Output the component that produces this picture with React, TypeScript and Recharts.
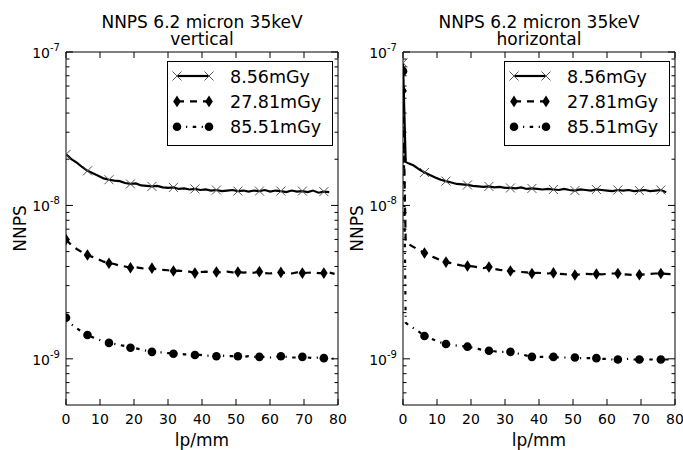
import { LineChart, Line, XAxis, YAxis, Legend, Label } from 'recharts';

// spatial frequency (lp/mm)
const LP = [
  0, 0.79, 1.58, 3.16, 4.74, 6.32, 7.9, 9.48, 11.06, 12.64, 14.22, 15.8, 17.38, 18.96, 20.54, 22.12,
  23.7, 25.28, 26.86, 28.44, 30.02, 31.6, 33.18, 34.76, 36.34, 37.92, 39.5, 41.08, 42.66, 44.24, 45.82,
  47.4, 48.98, 50.56, 52.14, 53.72, 55.3, 56.88, 58.46, 60.04, 61.62, 63.2, 64.78, 66.36, 67.94, 69.52,
  71.1, 72.68, 74.26, 75.84, 77.42, 79.0,
];

// where the marker symbols sit
const MARKER_LP = [0, 6.32, 12.64, 18.96, 25.28, 31.6, 37.92, 44.24, 50.56, 56.88, 63.2, 69.52, 75.84];

// vertical
const V_8_56 = [
  2.15e-8, 2.08e-8, 2.0e-8, 1.9e-8, 1.78e-8, 1.68e-8, 1.62e-8, 1.56e-8, 1.5e-8, 1.47e-8, 1.45e-8,
  1.44e-8, 1.4e-8, 1.38e-8, 1.39e-8, 1.35e-8, 1.34e-8, 1.33e-8, 1.34e-8, 1.31e-8, 1.3e-8, 1.31e-8,
  1.28e-8, 1.29e-8, 1.27e-8, 1.28e-8, 1.26e-8, 1.27e-8, 1.25e-8, 1.26e-8, 1.24e-8, 1.25e-8, 1.26e-8,
  1.24e-8, 1.25e-8, 1.23e-8, 1.25e-8, 1.24e-8, 1.26e-8, 1.23e-8, 1.25e-8, 1.24e-8, 1.22e-8, 1.25e-8,
  1.23e-8, 1.24e-8, 1.22e-8, 1.25e-8, 1.21e-8, 1.23e-8, 1.22e-8, null,
];
const V_27_81 = [
  6.0e-9, 5.75e-9, 5.5e-9, 5.2e-9, 4.95e-9, 4.75e-9, 4.6e-9, 4.45e-9, 4.3e-9, 4.2e-9, 4.15e-9,
  4.05e-9, 4.0e-9, 3.92e-9, 3.95e-9, 3.9e-9, 3.85e-9, 3.9e-9, 3.82e-9, 3.8e-9, 3.78e-9, 3.74e-9,
  3.76e-9, 3.72e-9, 3.7e-9, 3.62e-9, 3.68e-9, 3.7e-9, 3.66e-9, 3.68e-9, 3.65e-9, 3.7e-9, 3.66e-9,
  3.68e-9, 3.65e-9, 3.67e-9, 3.64e-9, 3.7e-9, 3.62e-9, 3.6e-9, 3.66e-9, 3.66e-9, 3.63e-9, 3.6e-9,
  3.66e-9, 3.62e-9, 3.64e-9, 3.66e-9, 3.62e-9, 3.62e-9, 3.65e-9, 3.58e-9,
];
const V_85_51 = [
  1.85e-9, 1.75e-9, 1.68e-9, 1.58e-9, 1.5e-9, 1.43e-9, 1.38e-9, 1.34e-9, 1.3e-9, 1.27e-9, 1.25e-9,
  1.23e-9, 1.21e-9, 1.18e-9, 1.17e-9, 1.15e-9, 1.13e-9, 1.11e-9, 1.1e-9, 1.1e-9, 1.09e-9, 1.08e-9,
  1.08e-9, 1.07e-9, 1.07e-9, 1.06e-9, 1.06e-9, 1.05e-9, 1.05e-9, 1.04e-9, 1.05e-9, 1.04e-9, 1.04e-9,
  1.04e-9, 1.03e-9, 1.04e-9, 1.03e-9, 1.03e-9, 1.03e-9, 1.02e-9, 1.03e-9, 1.04e-9, 1.03e-9, 1.02e-9,
  1.02e-9, 1.03e-9, 1.02e-9, 1.01e-9, 1.02e-9, 1.01e-9, 1.01e-9, 1.0e-9,
];

// horizontal
const H_8_56 = [
  8.5e-8, 1.92e-8, 1.88e-8, 1.82e-8, 1.72e-8, 1.64e-8, 1.58e-8, 1.52e-8, 1.47e-8, 1.44e-8, 1.41e-8,
  1.38e-8, 1.37e-8, 1.36e-8, 1.34e-8, 1.33e-8, 1.32e-8, 1.33e-8, 1.31e-8, 1.32e-8, 1.3e-8, 1.3e-8,
  1.29e-8, 1.31e-8, 1.28e-8, 1.29e-8, 1.28e-8, 1.27e-8, 1.28e-8, 1.27e-8, 1.26e-8, 1.28e-8, 1.26e-8,
  1.25e-8, 1.27e-8, 1.26e-8, 1.25e-8, 1.27e-8, 1.26e-8, 1.25e-8, 1.24e-8, 1.26e-8, 1.25e-8, 1.26e-8,
  1.24e-8, 1.25e-8, 1.26e-8, 1.24e-8, 1.25e-8, 1.26e-8, 1.22e-8, null,
];
const H_27_81 = [
  5.6e-8, 5.78e-9, 5.6e-9, 5.35e-9, 5.1e-9, 4.9e-9, 4.7e-9, 4.55e-9, 4.4e-9, 4.27e-9, 4.2e-9,
  4.12e-9, 4.05e-9, 4.03e-9, 4.0e-9, 3.95e-9, 3.9e-9, 3.97e-9, 3.85e-9, 3.8e-9, 3.78e-9, 3.74e-9,
  3.72e-9, 3.68e-9, 3.66e-9, 3.6e-9, 3.64e-9, 3.62e-9, 3.6e-9, 3.63e-9, 3.58e-9, 3.56e-9, 3.55e-9,
  3.52e-9, 3.55e-9, 3.58e-9, 3.56e-9, 3.57e-9, 3.55e-9, 3.58e-9, 3.6e-9, 3.6e-9, 3.56e-9, 3.54e-9,
  3.52e-9, 3.53e-9, 3.55e-9, 3.58e-9, 3.6e-9, 3.6e-9, 3.58e-9, 3.56e-9,
];
const H_85_51 = [
  7.5e-8, 1.72e-9, 1.66e-9, 1.58e-9, 1.5e-9, 1.41e-9, 1.36e-9, 1.32e-9, 1.28e-9, 1.25e-9, 1.23e-9,
  1.22e-9, 1.21e-9, 1.2e-9, 1.18e-9, 1.16e-9, 1.14e-9, 1.13e-9, 1.12e-9, 1.11e-9, 1.11e-9, 1.11e-9,
  1.09e-9, 1.07e-9, 1.05e-9, 1.03e-9, 1.03e-9, 1.03e-9, 1.02e-9, 1.03e-9, 1.02e-9, 1.02e-9, 1.02e-9,
  1.02e-9, 1.01e-9, 1.01e-9, 1.01e-9, 1.01e-9, 1.0e-9, 1.0e-9, 0.99e-9, 0.99e-9, 0.99e-9, 1.0e-9,
  0.99e-9, 0.99e-9, 0.99e-9, 0.99e-9, 0.99e-9, 0.99e-9, 0.99e-9, 0.99e-9,
];

const DOSES = ['8.56mGy', '27.81mGy', '85.51mGy'];
const X_TICKS = [0, 10, 20, 30, 40, 50, 60, 70, 80];
const Y_MAJOR = [1e-9, 1e-8, 1e-7];
const Y_MINOR = [
  6e-10, 7e-10, 8e-10, 9e-10,
  2e-9, 3e-9, 4e-9, 5e-9, 6e-9, 7e-9, 8e-9, 9e-9,
  2e-8, 3e-8, 4e-8, 5e-8, 6e-8, 7e-8, 8e-8, 9e-8,
];
const Y_TICKS = [...Y_MINOR, ...Y_MAJOR].sort((a, b) => a - b);

const FONT = '"DejaVu Sans", sans-serif';
const W = 683;
const PLOT_TOP = 52;
const STYLES = [
  { dash: undefined, marker: 'x' },
  { dash: '7 6', marker: 'd' },
  { dash: '3.5 5.5 1.2 5.5', marker: 'o' },
];

function Marker({ kind, cx, cy }: { kind: string; cx: number; cy: number }) {
  if (kind === 'x') {
    const s = 4.5;
    return (
      <g stroke="#555" strokeWidth={1}>
        <line x1={cx - s} y1={cy - s} x2={cx + s} y2={cy + s} />
        <line x1={cx - s} y1={cy + s} x2={cx + s} y2={cy - s} />
      </g>
    );
  }
  if (kind === 'd') {
    const w = 3.8, h = 5.8;
    return <path d={`M${cx},${cy - h}L${cx + w},${cy}L${cx},${cy + h}L${cx - w},${cy}Z`} fill="#000" />;
  }
  return <circle cx={cx} cy={cy} r={4.3} fill="#000" />;
}

const GAP = 6;

function LeftTick({ x, y, payload }: any) {
  const v = payload.value;
  const major = Y_MAJOR.includes(v);
  const ax = x + GAP;
  return (
    <g>
      <line x1={ax} x2={ax + (major ? 7 : 3.5)} y1={y} y2={y} stroke="#000" />
      {major && (
        <text x={x} y={y + 6} textAnchor="end" fontSize={14} fontFamily={FONT} fill="#000">
          10
          <tspan dy={-7} fontSize={10}>{`-${-Math.round(Math.log10(v))}`}</tspan>
        </text>
      )}
    </g>
  );
}

function RightTick({ x, y, payload }: any) {
  const major = Y_MAJOR.includes(payload.value);
  return <line x1={x} x2={x - (major ? 7 : 3.5)} y1={y} y2={y} stroke="#000" />;
}

function TopTick({ x, y }: any) {
  return <line x1={x} x2={x} y1={y} y2={y + 6} stroke="#000" />;
}

function BottomTick({ x, y, payload }: any) {
  const ay = y - GAP;
  return (
    <g>
      <line x1={x} x2={x} y1={ay} y2={ay - 6} stroke="#000" />
      <text x={x} y={ay + 19} textAnchor="middle" fontSize={14} fontFamily={FONT} fill="#000">
        {payload.value}
      </text>
    </g>
  );
}

function LegendBox() {
  return (
    <svg width={166} height={85} style={{ display: 'block' }}>
      <rect x={0.5} y={0.5} width={165} height={84} fill="#fff" stroke="#000" />
      {DOSES.map((d, i) => {
        const cy = 15 + i * 25.4;
        const st = STYLES[i];
        return (
          <g key={d}>
            <line x1={10} x2={42} y1={cy} y2={cy} stroke="#000" strokeWidth={2.2} strokeDasharray={st.dash} />
            <Marker kind={st.marker} cx={10} cy={cy} />
            <Marker kind={st.marker} cx={42} cy={cy} />
            <text x={63} y={cy + 6.5} fontSize={17.5} fontFamily={FONT} fill="#000">{d}</text>
          </g>
        );
      })}
    </svg>
  );
}

// each panel is a full-width chart so tick labels near its edge are not clipped;
// the top and right frame axes get 1px so recharts still draws them
function Panel({ sub, series, plotLeft, plotRight, axisW }: {
  sub: string; series: (number | null)[][]; plotLeft: number; plotRight: number; axisW: number;
}) {
  const rows = LP.map((lp, i) => ({ lp, s0: series[0][i], s1: series[1][i], s2: series[2][i] }));
  const cx = (plotLeft + plotRight) / 2;
  return (
    <div style={{ position: 'absolute', left: 0, top: 0 }}>
      <LineChart
        width={W} height={450} data={rows}
        margin={{ top: PLOT_TOP - 1, right: W - plotRight - 1, bottom: 0, left: plotLeft - axisW }}
      >
        <XAxis
          dataKey="lp" type="number" domain={[0, 80]} ticks={X_TICKS} interval={0}
          height={45} tickSize={0} tickMargin={GAP} tick={<BottomTick />}
          axisLine={{ stroke: '#000' }} tickLine={false} allowDataOverflow
        >
          <Label
            content={() => (
              <text x={cx} y={446} textAnchor="middle" fontSize={17} fontFamily={FONT} fill="#000">
                lp/mm
              </text>
            )}
          />
        </XAxis>
        <XAxis
          xAxisId="top" orientation="top" dataKey="lp" type="number" domain={[0, 80]} ticks={X_TICKS}
          interval={0} height={1} tickSize={0} tickMargin={0} tick={<TopTick />}
          axisLine={{ stroke: '#000' }} tickLine={false} allowDataOverflow
        >
          <Label
            content={() => (
              <text textAnchor="middle" fontSize={17} fontFamily={FONT} fill="#000">
                <tspan x={cx} y={28}>NNPS 6.2 micron 35keV</tspan>
                <tspan x={cx} y={45}>{sub}</tspan>
              </text>
            )}
          />
        </XAxis>
        <YAxis
          scale="log" domain={[5e-10, 1e-7]} ticks={Y_TICKS} interval={0} width={axisW}
          tickSize={0} tickMargin={GAP} tick={<LeftTick />} axisLine={{ stroke: '#000' }}
          tickLine={false} allowDataOverflow
        >
          <Label
            content={() => (
              <text
                transform={`translate(${plotLeft - 46},228.5) rotate(-90)`}
                textAnchor="middle" dominantBaseline="central" fontSize={17} fontFamily={FONT} fill="#000"
              >
                NNPS
              </text>
            )}
          />
        </YAxis>
        <YAxis
          yAxisId="right" orientation="right" scale="log" domain={[5e-10, 1e-7]} ticks={Y_TICKS}
          interval={0} width={1} tickSize={0} tickMargin={0} tick={<RightTick />}
          axisLine={{ stroke: '#000' }} tickLine={false} allowDataOverflow
        />
        <Legend
          layout="vertical" align="center" verticalAlign="middle"
          wrapperStyle={{ top: 61, left: plotRight - 5 - 166, width: 166, height: 85 }}
          content={() => <LegendBox />}
        />
        {/* invisible series that ties the top and right frame axes to the data */}
        <Line
          xAxisId="top" yAxisId="right" dataKey="s0" stroke="none" dot={false}
          activeDot={false} isAnimationActive={false} legendType="none"
        />
        {STYLES.map((st, i) => (
          <Line
            key={i}
            dataKey={`s${i}`}
            type="linear"
            stroke="#000"
            strokeWidth={2.2}
            strokeDasharray={st.dash}
            isAnimationActive={false}
            activeDot={false}
            dot={(p: any) =>
              MARKER_LP.includes(p.payload.lp) && p.value != null ? (
                <Marker key={`m${i}-${p.index}`} kind={st.marker} cx={p.cx} cy={p.cy} />
              ) : (
                <g key={`m${i}-${p.index}`} />
              )
            }
          />
        ))}
      </LineChart>
    </div>
  );
}

export default function App() {
  return (
    <div style={{ position: 'absolute', left: 0, top: 0, width: W, height: 450, background: '#fff', fontFamily: FONT }}>
      <Panel sub="vertical" series={[V_8_56, V_27_81, V_85_51]} plotLeft={66} plotRight={338} axisW={66} />
      <Panel sub="horizontal" series={[H_8_56, H_27_81, H_85_51]} plotLeft={403} plotRight={675} axisW={63} />
    </div>
  );
}
